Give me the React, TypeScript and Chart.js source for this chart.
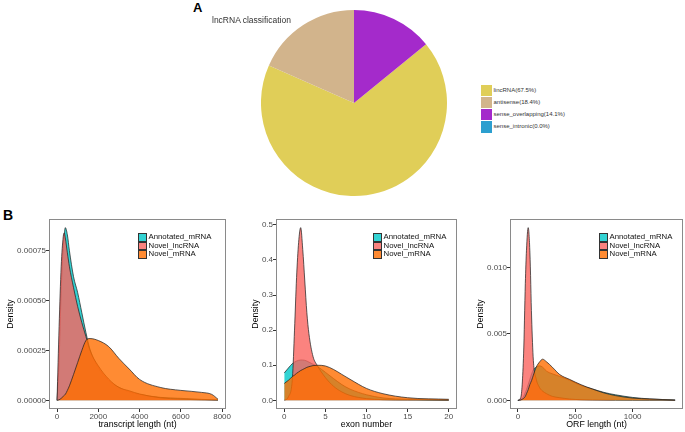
import React, { useEffect, useRef } from 'react';
import { Chart, registerables } from 'chart.js';

Chart.register(...registerables);

const FONT = "'Liberation Sans', Arial, Helvetica, sans-serif";

// ---------- Panel A: pie ----------
const pieTitle = 'lncRNA classification';
const pieCategories = ['lincRNA', 'antisense', 'sense_overlapping', 'sense_intronic'];
const pieValues = [67.5, 18.4, 14.1, 0.0];
const pieColors = ['#E0CE58', '#D2B48C', '#A42ACB', '#2C9FCF'];

// ---------- Panel B: densities ----------
const seriesNames = ['Annotated_mRNA', 'Novel_lncRNA', 'Novel_mRNA'];
const seriesColors = ['rgba(0,200,200,0.8)', 'rgba(250,100,95,0.8)', 'rgba(255,110,0,0.8)'];

// transcript length
const lengthX = [0, 100, 200, 300, 350, 400, 500, 600, 800, 1000, 1200, 1400, 1600, 2000, 2500, 3000, 3500, 4000, 5000, 6000, 7000, 7500, 7800];
const lengthAnnotated = [0, 0.0002, 0.00055, 0.00077, 0.00083, 0.000866, 0.00083, 0.00075, 0.00062, 0.00054, 0.00044, 0.00034, 0.000255, 0.000165, 0.0001, 0.000065, 0.000043, 0.00003, 0.000015, 0.00001, 0.000005, 0.000003, 0.000002];
const lengthLncRNA = [0, 0.00037, 0.00067, 0.00082, 0.00084, 0.000815, 0.00074, 0.00067, 0.000565, 0.00047, 0.00039, 0.00032, 0.00025, 0.000173, 0.000107, 0.000065, 0.000048, 0.000032, 0.000013, 0.000006, 0.000003, 0.000002, 0.000001];
const lengthMRNA = [0, 0.000003, 0.00001, 0.00002, 0.000025, 0.00003, 0.00005, 0.000073, 0.00013, 0.00019, 0.00025, 0.0003, 0.00031, 0.0003, 0.00027, 0.00021, 0.000157, 0.000105, 0.000065, 0.00005, 0.00004, 0.00003, 0.000006];
const lengthXTicks = [0, 2000, 4000, 6000, 8000];
const lengthXTickLabels = ['0', '2000', '4000', '6000', '8000'];
const lengthYTicks = [0, 0.00025, 0.0005, 0.00075];
const lengthYTickLabels = ['0.00000', '0.00025', '0.00050', '0.00075'];

// exon number
const exonX = [0, 0.5, 1, 1.25, 1.5, 1.75, 2, 2.25, 2.5, 2.75, 3, 3.5, 4, 5, 6, 7, 8, 10, 12, 15, 20];
const exonAnnotated = [0.078, 0.092, 0.105, 0.109, 0.112, 0.114, 0.115, 0.115, 0.114, 0.112, 0.109, 0.103, 0.097, 0.08, 0.062, 0.045, 0.032, 0.016, 0.007, 0.003, 0.001];
const exonLncRNA = [0, 0.01, 0.065, 0.2, 0.35, 0.45, 0.492, 0.43, 0.34, 0.25, 0.19, 0.125, 0.1, 0.065, 0.04, 0.024, 0.014, 0.005, 0.002, 0.001, 0];
const exonMRNA = [0.048, 0.057, 0.068, 0.072, 0.077, 0.081, 0.085, 0.088, 0.091, 0.094, 0.096, 0.099, 0.1, 0.098, 0.088, 0.074, 0.06, 0.034, 0.019, 0.0075, 0.003];
const exonXTicks = [0, 5, 10, 15, 20];
const exonXTickLabels = ['0', '5', '10', '15', '20'];
const exonYTicks = [0, 0.1, 0.2, 0.3, 0.4, 0.5];
const exonYTickLabels = ['0.0', '0.1', '0.2', '0.3', '0.4', '0.5'];

// ORF length
const orfX = [0, 25, 50, 65, 75, 90, 105, 120, 135, 160, 190, 215, 250, 300, 365, 450, 550, 650, 750, 850, 1000, 1150, 1370];
const orfAnnotated = [0, 0.00005, 0.0003, 0.0006, 0.0008, 0.0012, 0.0016, 0.002, 0.0023, 0.0025, 0.0026, 0.0025, 0.0022, 0.002, 0.0018, 0.00152, 0.00112, 0.00086, 0.0006, 0.00042, 0.00022, 0.00011, 0.00003];
const orfLncRNA = [0, 0.0002, 0.0035, 0.0088, 0.0113, 0.013, 0.0111, 0.0062, 0.003, 0.0016, 0.00095, 0.0007, 0.0005, 0.0003, 0.0002, 0.0001, 0.00005, 0.00003, 0.00002, 0.00001, 0.000005, 0, 0];
const orfMRNA = [0, 0.00003, 0.00015, 0.0003, 0.0005, 0.0008, 0.0012, 0.0015, 0.0019, 0.0025, 0.0029, 0.0031, 0.0029, 0.0025, 0.00194, 0.00158, 0.00118, 0.00085, 0.00056, 0.00036, 0.00017, 0.0001, 0.00002];
const orfXTicks = [0, 500, 1000];
const orfXTickLabels = ['0', '500', '1000'];
const orfYTicks = [0, 0.005, 0.01];
const orfYTickLabels = ['0.000', '0.005', '0.010'];

const PANEL_TOP = 200;
const PANEL_HEIGHT = 232;
const AREA_TOP = 219;
const AREA_BOTTOM = 409;

const boxPlugin = {
  id: 'panelBox',
  afterDraw(chart: any) {
    const { ctx, chartArea: a } = chart;
    ctx.save();
    ctx.strokeStyle = '#8a8a8a';
    ctx.lineWidth = 1;
    ctx.strokeRect(
      Math.round(a.left) + 0.5,
      Math.round(a.top) + 0.5,
      Math.round(a.right - a.left) - 1,
      Math.round(a.bottom - a.top) - 1
    );
    ctx.restore();
  },
};

type PanelProps = {
  left: number;
  width: number;
  padLeft: number;
  areaLeft: number;
  areaRight: number;
  xs: number[];
  series: number[][];
  xTicks: number[];
  xTickLabels: string[];
  yTicks: number[];
  yTickLabels: string[];
  xTitle: string;
  legendLeft: number;
};

function DensityPanel(p: PanelProps) {
  const ref = useRef<HTMLCanvasElement>(null);
  useEffect(() => {
    const xMin = Math.min(...p.xs);
    const xMax = Math.max(...p.xs);
    const xPad = 0.05 * (xMax - xMin);
    const yMax = Math.max(...p.series.map((s) => Math.max(...s)));
    const tickFont = { family: FONT, size: 8 };
    const titleFont = { family: FONT, size: 8.8 };
    const chart = new Chart(ref.current as HTMLCanvasElement, {
      type: 'line',
      data: {
        datasets: p.series.map((s, i) => ({
          label: seriesNames[i],
          data: p.xs.map((x, j) => ({ x, y: s[j] })),
          backgroundColor: seriesColors[i],
          borderColor: 'rgba(30,30,30,0.9)',
          borderWidth: 0.8,
          fill: 'origin',
          pointRadius: 0,
          cubicInterpolationMode: 'monotone',
          order: p.series.length - 1 - i,
        })),
      },
      options: {
        responsive: false,
        maintainAspectRatio: false,
        animation: false,
        events: [],
        layout: {
          padding: {
            left: p.padLeft,
            right: p.left + p.width - p.areaRight,
            top: AREA_TOP - PANEL_TOP,
            bottom: 0,
          },
        },
        plugins: { legend: { display: false }, tooltip: { enabled: false } },
        scales: {
          x: {
            type: 'linear',
            min: xMin - xPad,
            max: xMax + xPad,
            afterBuildTicks: (s: any) => {
              s.ticks = p.xTicks.map((v) => ({ value: v }));
            },
            afterFit: (s: any) => {
              s.height = PANEL_TOP + PANEL_HEIGHT - AREA_BOTTOM;
            },
            ticks: {
              callback: (_v: any, i: number) => p.xTickLabels[i],
              color: '#4d4d4d',
              font: tickFont,
              padding: 0,
              autoSkip: false,
              maxRotation: 0,
            },
            grid: { drawOnChartArea: false, drawTicks: true, tickLength: 3, tickColor: '#333', lineWidth: 1 },
            border: { display: false },
            title: { display: true, text: p.xTitle, color: '#000', font: titleFont, padding: { top: 0, bottom: 2 } },
          },
          y: {
            type: 'linear',
            min: -0.05 * yMax,
            max: 1.05 * yMax,
            afterBuildTicks: (s: any) => {
              s.ticks = p.yTicks.map((v) => ({ value: v }));
            },
            afterFit: (s: any) => {
              s.width = p.areaLeft - p.left - p.padLeft;
            },
            ticks: {
              callback: (_v: any, i: number) => p.yTickLabels[i],
              color: '#4d4d4d',
              font: tickFont,
              padding: 0,
              autoSkip: false,
            },
            grid: { drawOnChartArea: false, drawTicks: true, tickLength: 3, tickColor: '#333', lineWidth: 1 },
            border: { display: false },
            title: { display: true, text: 'Density', color: '#000', font: titleFont, padding: { top: 0, bottom: 0 } },
          },
        },
      } as any,
      plugins: [boxPlugin],
    });
    return () => chart.destroy();
  }, []);

  return (
    <>
      <canvas
        ref={ref}
        width={p.width}
        height={PANEL_HEIGHT}
        style={{ position: 'absolute', left: p.left, top: PANEL_TOP }}
      />
      {seriesNames.map((name, i) => (
        <div key={name}>
          <div
            style={{
              position: 'absolute',
              left: p.legendLeft,
              top: 233 + i * 8.5,
              width: 9,
              height: 8.5,
              boxSizing: 'border-box',
              border: '0.8px solid #333',
              background: seriesColors[i],
            }}
          />
          <div
            style={{
              position: 'absolute',
              left: p.legendLeft + 10.5,
              top: 233 + i * 8.5,
              height: 8.5,
              lineHeight: '8.5px',
              fontSize: 7.8,
              fontFamily: FONT,
              color: '#111',
              whiteSpace: 'nowrap',
            }}
          >
            {name}
          </div>
        </div>
      ))}
    </>
  );
}

function PiePanel() {
  const ref = useRef<HTMLCanvasElement>(null);
  useEffect(() => {
    const total = pieValues.reduce((a, b) => a + b, 0);
    const rotation = (360 * (pieValues[2] + pieValues[3])) / total;
    const chart = new Chart(ref.current as HTMLCanvasElement, {
      type: 'pie',
      data: {
        labels: pieCategories,
        datasets: [
          {
            data: pieValues,
            backgroundColor: pieColors,
            borderWidth: 0,
            hoverOffset: 0,
          },
        ],
      },
      options: {
        responsive: false,
        maintainAspectRatio: false,
        animation: false,
        events: [],
        rotation,
        layout: { padding: 0 },
        plugins: { legend: { display: false }, tooltip: { enabled: false } },
      } as any,
    });
    return () => chart.destroy();
  }, []);
  return (
    <>
      <canvas ref={ref} width={186} height={186} style={{ position: 'absolute', left: 261, top: 10 }} />
      <div
        style={{
          position: 'absolute',
          left: 212,
          top: 15,
          fontSize: 8.5,
          lineHeight: '10px',
          fontFamily: FONT,
          color: '#333',
          whiteSpace: 'nowrap',
        }}
      >
        {pieTitle}
      </div>
      {pieCategories.map((c, i) => (
        <div key={c}>
          <div
            style={{
              position: 'absolute',
              left: 481,
              top: 84.5 + i * 12.2,
              width: 11,
              height: 11.5,
              background: pieColors[i],
            }}
          />
          <div
            style={{
              position: 'absolute',
              left: 493.5,
              top: 84.5 + i * 12.2,
              height: 11.5,
              lineHeight: '11.5px',
              fontSize: 6,
              fontFamily: FONT,
              color: '#333',
              whiteSpace: 'nowrap',
            }}
          >
            {`${c}(${pieValues[i].toFixed(1)}%)`}
          </div>
        </div>
      ))}
    </>
  );
}

export default function App() {
  return (
    <div
      style={{
        position: 'fixed',
        left: 0,
        top: 0,
        width: 685,
        height: 432,
        background: '#fff',
        overflow: 'hidden',
        fontFamily: FONT,
      }}
    >
      <div
        style={{ position: 'absolute', left: 193, top: 1, fontSize: 13, lineHeight: '13px', fontWeight: 'bold', color: '#000' }}
      >
        A
      </div>
      <div
        style={{ position: 'absolute', left: 3, top: 208, fontSize: 14, lineHeight: '14px', fontWeight: 'bold', color: '#000' }}
      >
        B
      </div>
      <PiePanel />
      <DensityPanel
        left={0}
        width={245}
        padLeft={5}
        areaLeft={49}
        areaRight={226}
        xs={lengthX}
        series={[lengthAnnotated, lengthLncRNA, lengthMRNA]}
        xTicks={lengthXTicks}
        xTickLabels={lengthXTickLabels}
        yTicks={lengthYTicks}
        yTickLabels={lengthYTickLabels}
        xTitle="transcript length (nt)"
        legendLeft={138}
      />
      <DensityPanel
        left={245}
        width={230}
        padLeft={5}
        areaLeft={276}
        areaRight={457}
        xs={exonX}
        series={[exonAnnotated, exonLncRNA, exonMRNA]}
        xTicks={exonXTicks}
        xTickLabels={exonXTickLabels}
        yTicks={exonYTicks}
        yTickLabels={exonYTickLabels}
        xTitle="exon number"
        legendLeft={373}
      />
      <DensityPanel
        left={475}
        width={210}
        padLeft={0}
        areaLeft={510}
        areaRight={683}
        xs={orfX}
        series={[orfAnnotated, orfLncRNA, orfMRNA]}
        xTicks={orfXTicks}
        xTickLabels={orfXTickLabels}
        yTicks={orfYTicks}
        yTickLabels={orfYTickLabels}
        xTitle="ORF length (nt)"
        legendLeft={599}
      />
    </div>
  );
}
